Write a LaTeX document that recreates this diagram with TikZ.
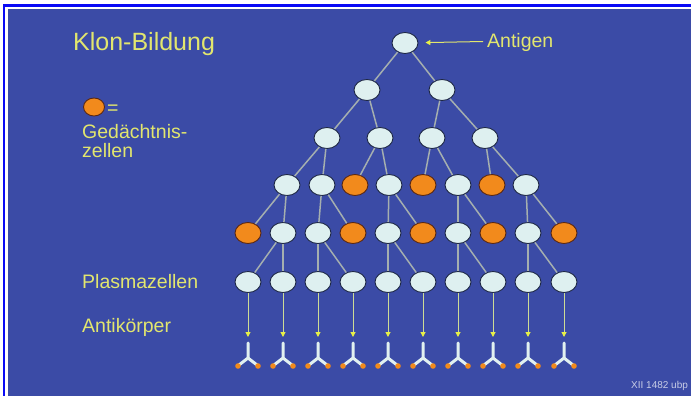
\documentclass[tikz,border=0pt]{standalone}
\usepackage{fontspec}
\setmainfont{Liberation Sans}
\usetikzlibrary{shapes.geometric,arrows.meta}
\definecolor{bgblue}{RGB}{59,75,166}
\definecolor{frameblue}{RGB}{10,10,245}
\definecolor{txt}{RGB}{226,230,110}
\definecolor{cellfill}{RGB}{222,240,240}
\definecolor{celledge}{RGB}{30,40,70}
\definecolor{orangefill}{RGB}{242,138,28}
\definecolor{orangeedge}{RGB}{90,40,20}
\definecolor{edgegray}{RGB}{165,175,175}
\definecolor{arrline}{RGB}{205,220,150}
\definecolor{arrtip}{RGB}{232,240,70}
\definecolor{abwhite}{RGB}{225,240,240}
\definecolor{smalltxt}{RGB}{200,205,230}
\tikzset{
  cell/.style={ellipse,draw=celledge,fill=cellfill,line width=0.9pt,minimum width=26pt,minimum height=21pt,inner sep=0pt},
  mem/.style={ellipse,draw=orangeedge,fill=orangefill,line width=0.9pt,minimum width=26pt,minimum height=21pt,inner sep=0pt},
  link/.style={draw=edgegray,line width=1.5pt},
  prod/.style={draw=arrline,line width=1pt,-{Triangle[length=5pt,width=5pt,color=arrtip]}},
  lab/.style={text=txt,font=\fontsize{19.5}{22}\selectfont,anchor=base west,inner sep=0pt},
}
\begin{document}
\begin{tikzpicture}[x=1pt,y=-1pt]
\useasboundingbox (0,0) rectangle (691,396);
\fill[white] (0,0) rectangle (691,396);
\fill[frameblue] (2.7,4) rectangle (691,396);
\fill[white] (5.3,6.7) rectangle (691,396);
\fill[bgblue] (7.5,9.5) rectangle (691,396);

% titles and labels
\node[lab,font=\fontsize{25}{28}\selectfont] (title) at (73,51) {Klon-Bildung};
\node[mem,minimum width=21pt,minimum height=18pt] (legcell) at (94,107) {};
\node[lab] (eq) at (107,114) {=};
\node[lab] (ged1) at (82,139) {Gedächtnis-};
\node[lab] (ged2) at (82,157) {zellen};
\node[lab] (plasma) at (82,288) {Plasmazellen};
\node[lab] (anti) at (82,332) {Antikörper};
\node[lab] (antigen) at (487,48) {Antigen};
\node[text=smalltxt,font=\fontsize{10}{11}\selectfont,anchor=base west,inner sep=0pt] (ref) at (631,388) {XII 1482 ubp};

% tree nodes
\node[cell] (r) at (405,43) {};
\node[cell] (a1) at (367,90) {};
\node[cell] (a2) at (442,90) {};
\node[cell] (b1) at (327,138) {};
\node[cell] (b2) at (380,138) {};
\node[cell] (b3) at (432,138) {};
\node[cell] (b4) at (485,138) {};
\node[cell] (c1) at (287,185) {};
\node[cell] (c2) at (322,185) {};
\node[mem]  (c3) at (355,185) {};
\node[cell] (c4) at (389,185) {};
\node[mem]  (c5) at (423,185) {};
\node[cell] (c6) at (458,185) {};
\node[mem]  (c7) at (492,185) {};
\node[cell] (c8) at (526,185) {};
\node[mem]  (d1) at (248,233) {};
\node[cell] (d2) at (283,233) {};
\node[cell] (d3) at (318,233) {};
\node[mem]  (d4) at (353,233) {};
\node[cell] (d5) at (388,233) {};
\node[mem]  (d6) at (423,233) {};
\node[cell] (d7) at (458,233) {};
\node[mem]  (d8) at (493,233) {};
\node[cell] (d9) at (528,233) {};
\node[mem]  (d10) at (564,233) {};
\foreach \i/\x in {1/248,2/283,3/318,4/353,5/388,6/423,7/458,8/493,9/528,10/564}{
  \node[cell] (p\i) at (\x,282) {};
  \coordinate (t\i) at (\x,337);
}

% links
\foreach \u/\v in {r/a1,r/a2,a1/b1,a1/b2,a2/b3,a2/b4,
  b1/c1,b1/c2,b2/c3,b2/c4,b3/c5,b3/c6,b4/c7,b4/c8,
  c1/d1,c1/d2,c2/d3,c2/d4,c4/d5,c4/d6,c6/d7,c6/d8,c8/d9,c8/d10,
  d2/p1,d2/p2,d3/p3,d3/p4,d5/p5,d5/p6,d7/p7,d7/p8,d9/p9,d9/p10}
  \draw[link] (\u) -- (\v);

% antigen arrow
\coordinate (agstart) at (483,41.5);
\draw[draw=txt,line width=1pt,shorten >=7pt,-{Triangle[length=5pt,width=5pt,color=arrtip]}] (agstart) -- (r);

% production arrows and antibodies
\foreach \i/\x in {1/248,2/283,3/318,4/353,5/388,6/423,7/458,8/493,9/528,10/564}{
  \draw[prod] (p\i) -- (t\i);
  \draw[abwhite,line width=3pt,line cap=round,line join=round] (\x,343) -- (\x,358) -- (\x-9,365);
  \draw[abwhite,line width=3pt,line cap=round,line join=round] (\x,358) -- (\x+9,365);
  \fill[orangefill] (\x-10,366) circle (2.8);
  \fill[orangefill] (\x+10,366) circle (2.8);
}
\end{tikzpicture}
\end{document}
